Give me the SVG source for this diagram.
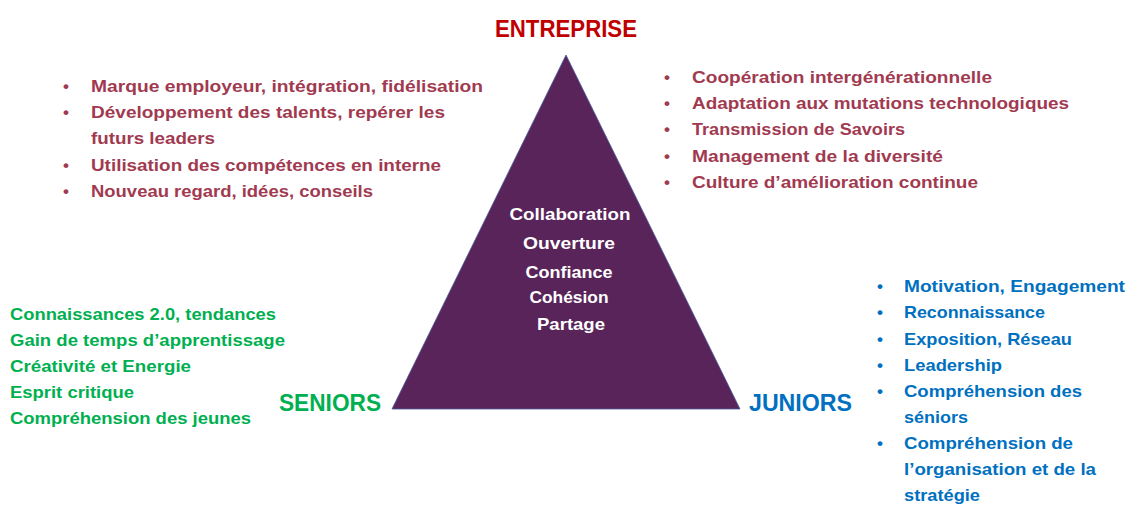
<svg xmlns="http://www.w3.org/2000/svg" width="1130" height="507" viewBox="0 0 1130 507">
  <style>
    text { font-family: "Liberation Sans", Arial, sans-serif; font-weight: bold; }
    .lst { font-size: 17px; }
    .head { font-size: 23px; }
    .ent { fill: #a13a50; }
    .sen { fill: #00b050; }
    .jun { fill: #0070c0; }
    .val { fill: #ffffff; font-size: 16.5px; text-anchor: middle; }
  </style>
  <rect width="1130" height="507" fill="#ffffff"/>

  <!-- central pyramid -->
  <g id="pyramid">
    <polygon points="566,55 392,409 740,409" fill="#58245a" stroke="#4a5a9a" stroke-width="0.8" stroke-linejoin="miter"/>
    <text class="val" x="570" y="220" textLength="121" lengthAdjust="spacingAndGlyphs">Collaboration</text>
    <text class="val" x="569" y="249" textLength="92" lengthAdjust="spacingAndGlyphs">Ouverture</text>
    <text class="val" x="569" y="278" textLength="87" lengthAdjust="spacingAndGlyphs">Confiance</text>
    <text class="val" x="569" y="303" textLength="79" lengthAdjust="spacingAndGlyphs">Cohésion</text>
    <text class="val" x="571" y="330" textLength="68" lengthAdjust="spacingAndGlyphs">Partage</text>
  </g>

  <!-- corner labels -->
  <g id="entreprise">
    <text class="head" x="495" y="37" fill="#c00000" textLength="142" lengthAdjust="spacingAndGlyphs">ENTREPRISE</text>
  </g>
  <g id="seniors">
    <text class="head" x="279" y="411" fill="#00b050" textLength="102" lengthAdjust="spacingAndGlyphs">SENIORS</text>
  </g>
  <g id="juniors">
    <text class="head" x="749" y="411" fill="#0070c0" textLength="103" lengthAdjust="spacingAndGlyphs">JUNIORS</text>
  </g>

  <!-- company benefits, left -->
  <g id="entreprise-gains-left" class="lst ent">
    <text x="63" y="92">•</text>
    <text x="91" y="92" textLength="392" lengthAdjust="spacingAndGlyphs">Marque employeur, intégration, fidélisation</text>
    <text x="63" y="118">•</text>
    <text x="91" y="118" textLength="354" lengthAdjust="spacingAndGlyphs">Développement des talents, repérer les</text>
    <text x="91" y="144" textLength="124" lengthAdjust="spacingAndGlyphs">futurs leaders</text>
    <text x="63" y="171">•</text>
    <text x="91" y="171" textLength="350" lengthAdjust="spacingAndGlyphs">Utilisation des compétences en interne</text>
    <text x="63" y="197">•</text>
    <text x="91" y="197" textLength="282" lengthAdjust="spacingAndGlyphs">Nouveau regard, idées, conseils</text>
  </g>

  <!-- company benefits, right -->
  <g id="entreprise-gains-right" class="lst ent">
    <text x="664" y="83">•</text>
    <text x="692" y="83" textLength="300" lengthAdjust="spacingAndGlyphs">Coopération intergénérationnelle</text>
    <text x="664" y="109">•</text>
    <text x="692" y="109" textLength="377" lengthAdjust="spacingAndGlyphs">Adaptation aux mutations technologiques</text>
    <text x="664" y="135">•</text>
    <text x="692" y="135" textLength="213" lengthAdjust="spacingAndGlyphs">Transmission de Savoirs</text>
    <text x="664" y="162">•</text>
    <text x="692" y="162" textLength="251" lengthAdjust="spacingAndGlyphs">Management de la diversité</text>
    <text x="664" y="188">•</text>
    <text x="692" y="188" textLength="286" lengthAdjust="spacingAndGlyphs">Culture d’amélioration continue</text>
  </g>

  <!-- seniors benefits -->
  <g id="seniors-gains" class="lst sen">
    <text x="10" y="320" textLength="266" lengthAdjust="spacingAndGlyphs">Connaissances 2.0, tendances</text>
    <text x="10" y="346" textLength="275" lengthAdjust="spacingAndGlyphs">Gain de temps d’apprentissage</text>
    <text x="10" y="372" textLength="181" lengthAdjust="spacingAndGlyphs">Créativité et Energie</text>
    <text x="10" y="398" textLength="124" lengthAdjust="spacingAndGlyphs">Esprit critique</text>
    <text x="10" y="424" textLength="241" lengthAdjust="spacingAndGlyphs">Compréhension des jeunes</text>
  </g>

  <!-- juniors benefits -->
  <g id="juniors-gains" class="lst jun">
    <text x="877" y="292">•</text>
    <text x="904" y="292" textLength="221" lengthAdjust="spacingAndGlyphs">Motivation, Engagement</text>
    <text x="877" y="318">•</text>
    <text x="904" y="318" textLength="141" lengthAdjust="spacingAndGlyphs">Reconnaissance</text>
    <text x="877" y="345">•</text>
    <text x="904" y="345" textLength="168" lengthAdjust="spacingAndGlyphs">Exposition, Réseau</text>
    <text x="877" y="371">•</text>
    <text x="904" y="371" textLength="98" lengthAdjust="spacingAndGlyphs">Leadership</text>
    <text x="877" y="397">•</text>
    <text x="904" y="397" textLength="178" lengthAdjust="spacingAndGlyphs">Compréhension des</text>
    <text x="904" y="423" textLength="64" lengthAdjust="spacingAndGlyphs">séniors</text>
    <text x="877" y="449">•</text>
    <text x="904" y="449" textLength="169" lengthAdjust="spacingAndGlyphs">Compréhension de</text>
    <text x="904" y="475" textLength="192" lengthAdjust="spacingAndGlyphs">l’organisation et de la</text>
    <text x="904" y="501" textLength="76" lengthAdjust="spacingAndGlyphs">stratégie</text>
  </g>
</svg>
